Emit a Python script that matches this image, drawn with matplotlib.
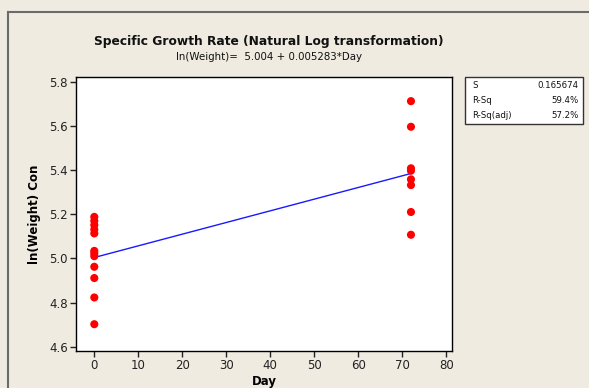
import matplotlib
matplotlib.use("Agg")
import matplotlib.pyplot as plt
from matplotlib.lines import Line2D
from matplotlib.patches import Rectangle

# Data
day0_values = [5.188, 5.170, 5.151, 5.131, 5.113, 5.034, 5.023, 5.010, 4.962, 4.911, 4.823, 4.702]
day72_values = [5.712, 5.596, 5.408, 5.397, 5.358, 5.332, 5.210, 5.107]
days = [0] * len(day0_values) + [72] * len(day72_values)
ln_weight = day0_values + day72_values
intercept = 5.004
slope = 0.005283
fit_days = [0, 72]
stats_labels = ["S", "R-Sq", "R-Sq(adj)"]
stats_values = ["0.165674", "59.4%", "57.2%"]
x_ticks = [0, 10, 20, 30, 40, 50, 60, 70, 80]
y_ticks = [4.6, 4.8, 5.0, 5.2, 5.4, 5.6, 5.8]

W, H = 589, 388
bg = "#EFEBE1"
fig = plt.figure(figsize=(W / 100, H / 100), dpi=100, facecolor=bg)

# outer frame lines (top and left)
fig.add_artist(Line2D([8 / W, 1], [1 - 11.5 / H, 1 - 11.5 / H], color="#6b6b6b", lw=1.5))
fig.add_artist(Line2D([8 / W, 8 / W], [0, 1 - 11.5 / H], color="#6b6b6b", lw=1.5))

ax = fig.add_axes([76 / W, 1 - 350.7 / H, (452.3 - 76) / W, (350.7 - 77.3) / H])
ax.set_facecolor("white")

fit_vals = [intercept + slope * d for d in fit_days]
ax.plot(fit_days, fit_vals, color="#1a1aff", lw=1.0, zorder=2)
ax.scatter(days, ln_weight, s=34, color="#ff0000", edgecolors="none", zorder=3)

ax.set_xlim(-4.16, 81.4)
ax.set_ylim(4.582, 5.82)
ax.set_xticks(x_ticks)
ax.set_yticks(y_ticks)
ax.set_yticklabels([f"{v:.1f}" for v in y_ticks])
ax.tick_params(direction="out", length=4, width=1, labelsize=8.5, colors="#222222", pad=2)
for s in ax.spines.values():
    s.set_color("black")
    s.set_linewidth(1.0)

ax.set_xlabel("Day", fontsize=8.5, fontweight="bold", labelpad=2)
ax.set_ylabel("ln(Weight) Con", fontsize=8.5, fontweight="bold", labelpad=6)

fig.text(269 / W, 1 - 41.5 / H, "Specific Growth Rate (Natural Log transformation)",
         ha="center", va="center", fontsize=8.8, fontweight="bold", color="#111111")
fig.text(269 / W, 1 - 57 / H, f"ln(Weight)=  {intercept:.3f} + {slope:.6f}*Day",
         ha="center", va="center", fontsize=7.4, color="#111111")

# stats box
box_l, box_r, box_t, box_b = 465, 582.5, 77.3, 124.3
fig.add_artist(Rectangle((box_l / W, 1 - box_b / H), (box_r - box_l) / W, (box_b - box_t) / H,
                         transform=fig.transFigure, facecolor="white", edgecolor="#333333", lw=1.0))
row_y = [85.5, 100.5, 115.5]
for lab, val, ry in zip(stats_labels, stats_values, row_y):
    fig.text(472 / W, 1 - ry / H, lab, ha="left", va="center", fontsize=6.2, color="#111111")
    fig.text(579 / W, 1 - ry / H, val, ha="right", va="center", fontsize=6.2, color="#111111")

fig.savefig("out.png", dpi=100, facecolor=bg)
